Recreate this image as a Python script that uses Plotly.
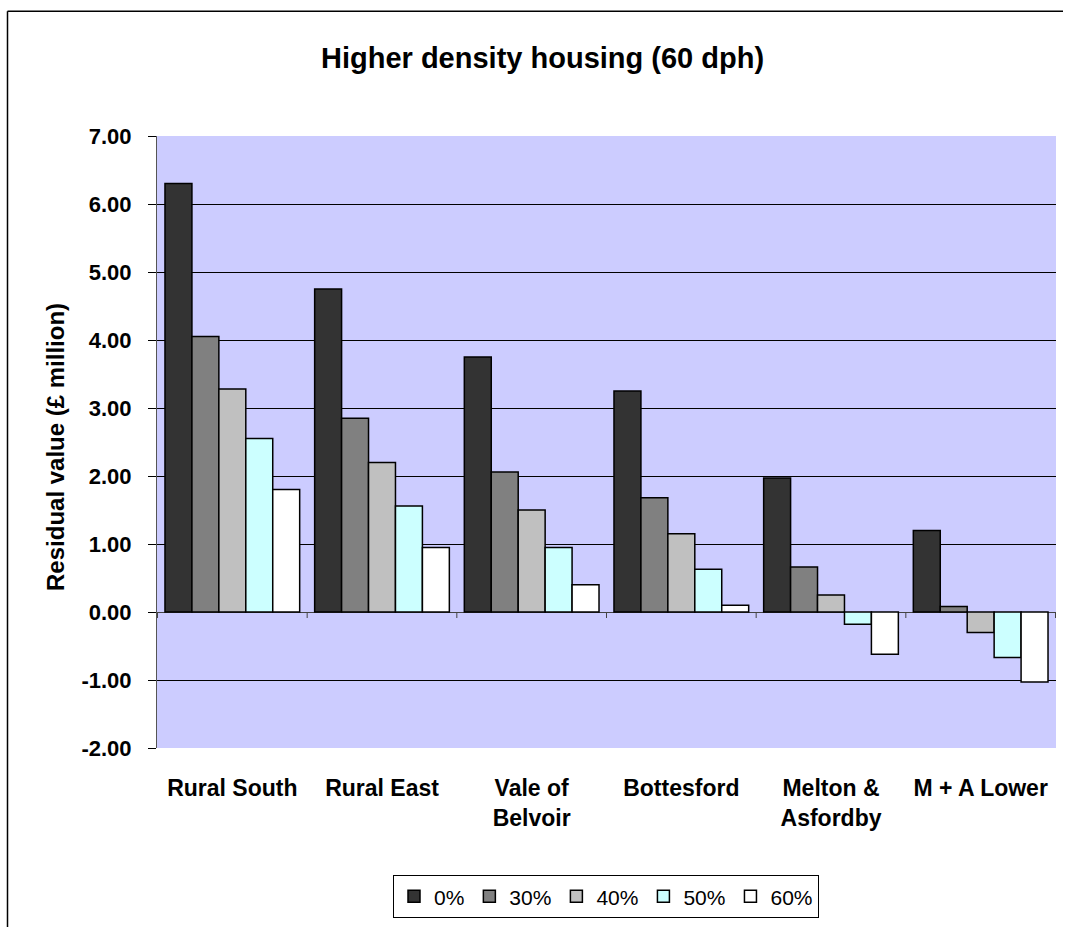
import plotly.graph_objects as go

# Residual land values (£ million) by sub-market and affordable housing share
categories = ["Rural South", "Rural East", "Vale of<br>Belvoir", "Bottesford",
              "Melton &<br>Asfordby", "M + A Lower"]
series_names = ["0%", "30%", "40%", "50%", "60%"]
values_0 = [6.30, 4.75, 3.75, 3.25, 1.97, 1.20]
values_30 = [4.05, 2.85, 2.06, 1.68, 0.66, 0.08]
values_40 = [3.28, 2.20, 1.50, 1.15, 0.25, -0.30]
values_50 = [2.55, 1.56, 0.95, 0.63, -0.18, -0.67]
values_60 = [1.80, 0.95, 0.40, 0.10, -0.62, -1.03]
y_ticks = [-2, -1, 0, 1, 2, 3, 4, 5, 6, 7]
y_tick_labels = ["-2.00", "-1.00", "0.00", "1.00", "2.00", "3.00",
                 "4.00", "5.00", "6.00", "7.00"]

series_values = [values_0, values_30, values_40, values_50, values_60]
colors = ["#333333", "#808080", "#C0C0C0", "#CCFFFF", "#FFFFFF"]

FONT = "Arial, Liberation Sans, sans-serif"

fig = go.Figure()
for name, vals, col in zip(series_names, series_values, colors):
    fig.add_trace(go.Bar(
        x=categories, y=vals, name=name,
        marker=dict(color=col, line=dict(color="black", width=1.5)),
    ))

L, R, T, B = 157, 9, 136, 175
W, H = 1065, 927
pw, ph = W - L - R, H - T - B

def px_x(px):
    return (px - L) / pw

def px_y(py):
    return (H - B - py) / ph

# category boundary tick marks on the zero line
shapes = []
for i in range(len(categories) + 1):
    shapes.append(dict(
        type="line", xref="x", yref="y", x0=i - 0.5, x1=i - 0.5,
        ysizemode="pixel", yanchor=0, y0=0, y1=-6,
        line=dict(color="#444444", width=1),
    ))

# outer chart frame (left and top edges)
shapes.append(dict(
    type="line", xref="paper", yref="paper",
    x0=px_x(7.5), x1=px_x(7.5), y0=px_y(H + 30), y1=px_y(10.5),
    line=dict(color="black", width=1.5),
))
shapes.append(dict(
    type="line", xref="paper", yref="paper",
    x0=px_x(7.5), x1=px_x(W - 2), y0=px_y(10.5), y1=px_y(10.5),
    line=dict(color="black", width=1.5),
))

fig.update_layout(
    width=W, height=H,
    margin=dict(l=L, r=R, t=T, b=B),
    paper_bgcolor="white",
    plot_bgcolor="#CCCCFF",
    font=dict(family=FONT, color="black"),
    barmode="group",
    bargap=0.1,
    bargroupgap=0,
    showlegend=True,
    legend=dict(
        orientation="h", x=px_x(606), xanchor="center",
        y=px_y(880), yanchor="top",
        bordercolor="black", borderwidth=1,
        font=dict(size=21, family=FONT),
        bgcolor="white",
        itemwidth=30,
    ),
    shapes=shapes,
    annotations=[
        dict(text="<b>Higher density housing (60 dph)</b>", xref="paper", yref="paper",
             x=px_x(542), y=px_y(57), xanchor="center", yanchor="middle",
             showarrow=False, font=dict(size=29, family=FONT)),
        dict(text="<b>Residual value (£ million)</b>", xref="paper", yref="paper",
             x=px_x(56), y=px_y(449), xanchor="center", yanchor="middle",
             textangle=-90, showarrow=False, font=dict(size=24, family=FONT)),
    ],
)

fig.update_xaxes(
    tickfont=dict(size=23, family=FONT, weight="bold"),
    showgrid=False, showline=False, ticks="",
    ticklabelstandoff=24,
)
fig.update_yaxes(
    range=[-2, 7], tickvals=y_ticks, ticktext=y_tick_labels,
    tickfont=dict(size=22, family=FONT, weight="bold"),
    showgrid=True, gridcolor="black", gridwidth=1,
    zeroline=True, zerolinecolor="#444444", zerolinewidth=1,
    showline=True, linecolor="#555555", linewidth=1,
    ticks="outside", ticklen=8, tickcolor="black",
    ticklabelstandoff=12,
)

fig.write_html("out.html")
